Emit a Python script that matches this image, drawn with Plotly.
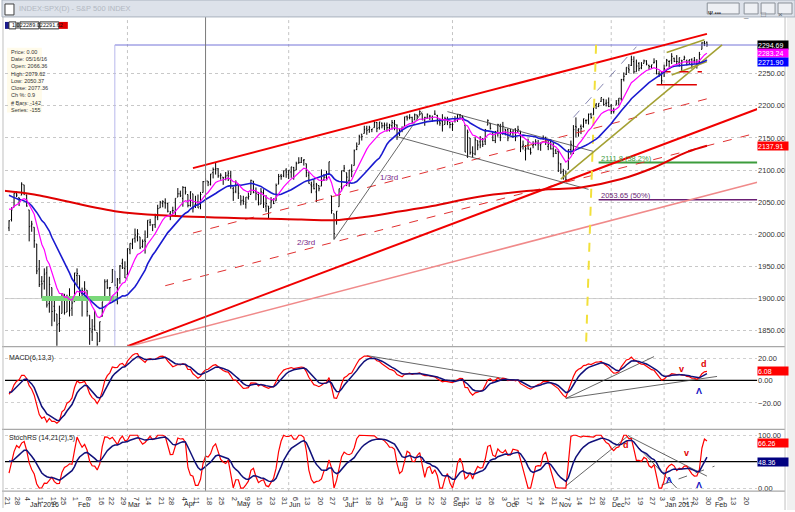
import pandas as pd
import plotly.graph_objects as go

# closes before the first visible bar (26 Oct - 18 Dec 2015), only used to warm up the indicators
warmup_close = [2071, 2066, 2090, 2089, 2079, 2104, 2109, 2102, 2100, 2099,
                2079, 2081, 2076, 2045, 2023, 2053, 2051, 2084, 2081, 2089,
                2086, 2089, 2089, 2090, 2080, 2102, 2080, 2050, 2092, 2077,
                2063, 2047, 2052, 2012, 2022, 2043, 2073, 2041, 2006]

# daily bars (open, high, low, close), one list per month
dec15 = [(2010,2022,2005,2021),(2023,2042,2020,2038),(2042,2064,2042,2064),(2064,2067,2058,2061),
         (2057,2057,2044,2056),(2061,2081,2061,2078),(2077,2077,2061,2063),(2061,2062,2043,2044)]
jan16 = [(2038,2038,1989,2012),(2013,2021,2004,2016),(2011,2011,1979,1990),(1985,1985,1938,1943),
         (1946,1960,1918,1922),(1927,1935,1901,1923),(1927,1947,1914,1938),(1940,1950,1886,1890),
         (1892,1934,1878,1922),(1917,1917,1857,1880),(1888,1901,1864,1881),(1876,1876,1812,1859),
         (1861,1889,1848,1869),(1877,1908,1877,1907),(1907,1907,1875,1878),(1879,1906,1879,1903),
         (1902,1916,1872,1882),(1885,1902,1873,1893),(1895,1940,1895,1940)]
feb16 = [(1936,1947,1921,1939),(1936,1936,1897,1903),(1908,1917,1872,1912),(1911,1927,1900,1915),
         (1913,1913,1872,1880),(1874,1874,1828,1853),(1848,1868,1834,1852),(1857,1881,1850,1851),
         (1847,1847,1810,1829),(1833,1864,1833,1864),(1872,1895,1872,1895),(1898,1930,1898,1926),
         (1927,1930,1915,1917),(1916,1918,1902,1917),(1925,1946,1925,1945),(1943,1943,1919,1921),
         (1917,1932,1891,1929),(1931,1952,1923,1951),(1955,1962,1946,1948),(1947,1958,1932,1932)]
mar16 = [(1937,1978,1937,1978),(1976,1986,1969,1986),(1985,1993,1977,1993),(1994,2009,1987,1999),
         (1996,2008,1989,2001),(1996,1996,1977,1979),(1981,1992,1979,1989),(1991,2006,1970,1989),
         (1995,2022,1995,2022),(2019,2024,2013,2019),(2015,2015,2005,2015),(2015,2032,2010,2027),
         (2027,2046,2022,2040),(2041,2052,2041,2050),(2048,2053,2042,2051),(2049,2056,2040,2049),
         (2048,2049,2034,2036),(2032,2036,2022,2035),(2037,2043,2032,2037),(2035,2056,2027,2056),
         (2058,2072,2058,2063),(2063,2068,2058,2060)]
apr16 = [(2056,2075,2043,2073),(2073,2074,2062,2066),(2062,2062,2042,2045),(2045,2067,2043,2066),
         (2063,2063,2034,2041),(2046,2060,2041,2047),(2050,2062,2041,2041),(2043,2066,2039,2062),
         (2065,2083,2065,2082),(2082,2087,2078,2083),(2083,2083,2075,2081),(2078,2094,2076,2094),
         (2096,2104,2087,2101),(2101,2111,2093,2102),(2102,2103,2088,2091),(2091,2095,2085,2092),
         (2089,2089,2077,2088),(2089,2097,2084,2091),(2092,2099,2083,2095),(2091,2099,2071,2076),
         (2071,2074,2052,2065)]
may16 = [(2067,2084,2064,2081),(2078,2078,2055,2064),(2060,2060,2045,2052),(2053,2060,2046,2051),
         (2047,2058,2040,2058),(2057,2065,2054,2059),(2062,2085,2062,2084),(2083,2083,2064,2065),
         (2067,2073,2053,2064),(2062,2066,2045,2047),(2047,2072,2047,2066),(2065,2070,2041,2047),
         (2044,2061,2035,2048),(2044,2044,2025,2040),(2041,2058,2041,2052),(2053,2056,2047,2048),
         (2052,2079,2052,2076),(2078,2094,2078,2090),(2091,2094,2085,2090),(2091,2099,2089,2099),
         (2100,2103,2088,2097)]
jun16 = [(2093,2100,2086,2100),(2097,2105,2088,2105),(2104,2105,2085,2099),(2100,2113,2100,2110),
         (2111,2120,2110,2112),(2112,2120,2111,2119),(2115,2117,2107,2116),(2110,2110,2089,2096),
         (2092,2098,2079,2079),(2077,2082,2064,2075),(2077,2085,2070,2071),(2066,2080,2050,2077),
         (2076,2076,2067,2071),(2075,2101,2075,2083),(2085,2094,2083,2089),(2089,2099,2084,2085),
         (2093,2113,2093,2113),(2060,2060,2032,2037),(2032,2032,1992,2001),(2023,2036,2015,2036),
         (2043,2071,2043,2071),(2074,2099,2067,2099)]
jul16 = [(2099,2108,2097,2103),(2096,2096,2075,2089),(2084,2100,2074,2100),(2100,2109,2089,2098),
         (2107,2132,2107,2130),(2132,2143,2131,2137),(2140,2155,2140,2152),(2156,2156,2146,2152),
         (2157,2169,2157,2163),(2165,2169,2155,2162),(2163,2169,2158,2166),(2163,2164,2159,2164),
         (2166,2176,2166,2174),(2174,2175,2159,2165),(2166,2175,2163,2175),(2173,2174,2165,2169),
         (2169,2174,2162,2170),(2170,2174,2160,2166),(2166,2172,2160,2170),(2169,2178,2163,2174)]
aug16 = [(2173,2178,2162,2171),(2170,2171,2147,2157),(2156,2164,2153,2164),(2164,2168,2159,2164),
         (2168,2183,2168,2183),(2183,2185,2177,2181),(2182,2187,2179,2182),(2182,2183,2173,2175),
         (2178,2188,2178,2186),(2186,2186,2179,2184),(2186,2193,2186,2191),(2188,2188,2178,2178),
         (2178,2183,2169,2182),(2181,2188,2180,2187),(2184,2186,2178,2184),(2182,2185,2175,2182),
         (2187,2193,2186,2187),(2185,2186,2171,2176),(2175,2179,2169,2173),(2176,2187,2160,2170),
         (2171,2183,2171,2180),(2179,2183,2170,2176),(2174,2175,2165,2171)]
sep16 = [(2171,2174,2161,2171),(2177,2184,2174,2180),(2181,2187,2175,2187),(2186,2187,2179,2186),
         (2183,2185,2177,2182),(2170,2170,2128,2128),(2121,2163,2119,2159),(2150,2150,2124,2127),
         (2128,2137,2120,2126),(2125,2151,2123,2147),(2146,2146,2131,2139),(2144,2153,2134,2139),
         (2145,2150,2136,2140),(2145,2164,2139,2163),(2170,2179,2170,2177),(2173,2173,2163,2165),
         (2158,2158,2145,2146),(2146,2161,2142,2160),(2161,2172,2152,2171),(2168,2172,2145,2151),
         (2156,2175,2156,2168)]
oct16 = [(2164,2164,2154,2161),(2163,2165,2145,2150),(2155,2164,2155,2160),(2158,2162,2150,2161),
         (2164,2165,2145,2153),(2160,2169,2160,2163),(2161,2161,2128,2136),(2137,2146,2132,2139),
         (2131,2139,2115,2133),(2139,2149,2132,2133),(2132,2135,2124,2127),(2138,2145,2134,2140),
         (2140,2148,2138,2144),(2142,2147,2131,2141),(2139,2143,2130,2141),(2149,2154,2147,2151),
         (2150,2152,2139,2144),(2137,2146,2131,2140),(2144,2148,2132,2133),(2133,2143,2120,2126),
         (2130,2133,2125,2126)]
nov16 = [(2129,2132,2097,2111),(2109,2111,2094,2097),(2098,2102,2085,2088),(2083,2099,2083,2085),
         (2101,2132,2101,2132),(2132,2146,2124,2140),(2131,2170,2125,2163),(2168,2182,2151,2167),
         (2162,2165,2152,2164),(2168,2171,2156,2165),(2168,2180,2166,2180),(2177,2179,2172,2177),
         (2178,2188,2171,2187),(2187,2189,2180,2182),(2186,2198,2186,2198),(2201,2204,2195,2203),
         (2199,2204,2198,2204),(2207,2213,2206,2213),(2210,2211,2200,2202),(2204,2210,2199,2204),
         (2205,2213,2198,2199)]
dec16 = [(2200,2203,2187,2191),(2191,2197,2188,2192),(2201,2209,2201,2204),(2208,2212,2201,2212),
         (2211,2242,2208,2241),(2241,2252,2238,2246),(2249,2260,2248,2260),(2258,2265,2251,2256),
         (2263,2278,2262,2272),(2269,2277,2250,2253),(2253,2272,2253,2262),(2266,2268,2254,2258),
         (2259,2268,2257,2263),(2266,2272,2266,2270),(2270,2271,2263,2265),(2263,2264,2256,2261),
         (2261,2264,2258,2264),(2267,2274,2266,2268),(2270,2271,2249,2250),(2250,2254,2245,2249),
         (2251,2253,2234,2239)]
jan17 = [(2252,2264,2245,2258),(2262,2273,2262,2271),(2269,2271,2260,2269),(2271,2282,2265,2277),
         (2274,2275,2268,2269),(2269,2279,2265,2269),(2268,2275,2261,2275),(2271,2271,2254,2270),
         (2272,2278,2271,2275),(2270,2272,2263,2268),(2270,2272,2264,2272),(2272,2274,2258,2264),
         (2270,2276,2266,2271),(2268,2273,2258,2265),(2267,2284,2266,2280),(2288,2299,2288,2298),
         (2298,2301,2293,2297),(2299,2300,2292,2295)]

# long red average at a few dates
ma_long_dates = ["2015-12-17", "2016-01-06", "2016-02-23", "2016-03-24", "2016-06-08", "2016-06-27",
                 "2016-07-14", "2016-08-02", "2016-08-22", "2016-09-19", "2016-10-26", "2016-11-14",
                 "2016-12-07", "2016-12-27", "2017-01-17", "2017-01-27"]
ma_long_vals = [2068, 2062, 2036, 2029, 2023, 2022, 2027, 2035, 2044, 2059, 2070, 2073, 2086, 2104, 2128, 2138]

# hand drawn lines: (date, value) end points
upper_channel = [("2016-04-07", 2103), ("2017-01-27", 2312)]
mid_channel = [("2016-04-07", 2002), ("2017-01-31", 2213)]
low_channel = [("2016-03-22", 1920), ("2017-02-24", 2158)]
main_trend = [("2016-03-01", 1826), ("2017-02-24", 2195)]
pink_trend = [("2016-03-01", 1825), ("2017-02-24", 2081)]
thin_up = [("2016-06-27", 1992), ("2016-08-16", 2191)]
wedge_low = [("2016-08-02", 2152), ("2016-11-17", 2070)]
wedge_high = [("2016-08-30", 2191), ("2016-11-21", 2129)]
rally_dash = [("2016-11-09", 2182), ("2016-12-15", 2292)]
olive_long = [("2016-11-02", 2086), ("2017-02-06", 2295)]
olive_low = [("2017-01-06", 2248), ("2017-01-27", 2269)]
olive_high = [("2017-01-04", 2283), ("2017-01-26", 2303)]
red_floor = [("2016-12-28", 2233), ("2017-01-23", 2233)]
red_floor2 = [("2016-12-30", 2253), ("2017-01-25", 2253)]
yellow_mark = [("2016-11-22", 2295), ("2016-11-16", 1826)]
green_band = [("2016-01-11", 1900), ("2016-02-24", 1900)]
last_level = [("2016-02-23", 2294.69), ("2017-03-03", 2294.69)]
last_level_drop = [("2016-02-23", 2294.69), ("2016-02-23", 1820)]
fib_382 = [("2016-11-23", 2111.8), ("2017-03-03", 2111.8)]
fib_50 = [("2016-11-23", 2053.65), ("2017-03-03", 2053.65)]
macd_lines = [[("2016-07-15", 22.2), ("2016-10-07", 0)],
              [("2016-11-04", -16), ("2016-12-27", 21.3)],
              [("2016-11-04", -16), ("2017-02-02", 3.6)]]
stoch_lines = [[("2016-11-04", 3.8), ("2016-12-12", 100)],
               [("2016-12-12", 98), ("2017-01-27", 22.6)],
               [("2016-12-15", 81), ("2017-01-10", 0)]]
stoch_dash = [("2016-12-30", 5.7), ("2017-02-01", 41.5)]

price_notes = [("1/3rd", "2016-07-28", 2089), ("2/3rd", "2016-06-10", 1988)]
macd_marks = [("v", "2017-01-12", 9.8, "#e00000"), ("d", "2017-01-26", 14.5, "#e00000"),
              ("Λ", "2017-01-24", -9.8, "#1010c0")]
stoch_marks = [("d", "2016-12-09", 81, "#e00000"), ("v", "2017-01-17", 66, "#e00000"),
               ("Λ", "2017-01-05", 15, "#1010c0"), ("Λ", "2017-01-24", 5, "#1010c0")]

# value boxes on the right scale: text, panel axis, value, colour
tags = [("2294.69", "y", 2294.69, "#000000"), ("2283.24", "y", 2281.5, "#ff00ff"),
        ("2271.90", "y", 2268.5, "#0000ff"), ("2137.91", "y", 2137.91, "#ff0000"),
        ("6.08", "y2", 8.8, "#ff0000"), ("66.26", "y3", 85, "#ff0000"), ("48.36", "y3", 50, "#000080")]

info_lines = ["Price: 0.00", "Date: 05/16/16", "Open: 2066.36", "High: 2079.62", "Low: 2050.37",
              "Close: 2077.36", "Ch %: 0.9", "# Bars: -142", "Series: -155"]

holidays = ["2015-12-25", "2016-01-01", "2016-01-18", "2016-02-15", "2016-03-25", "2016-05-30",
            "2016-07-04", "2016-09-05", "2016-11-24", "2016-12-26", "2017-01-02", "2017-01-16"]

# ---------------------------------------------------------------
bars = dec15 + jan16 + feb16 + mar16 + apr16 + may16 + jun16 + jul16 + aug16 + sep16 + oct16 + nov16 + dec16 + jan17
cal = pd.bdate_range("2015-12-16", "2017-03-03", freq="C", holidays=holidays)
base = cal.get_loc(pd.Timestamp("2015-12-21"))
pos = {d: i - base for i, d in enumerate(cal)}
assert cal[base + len(bars) - 1] == pd.Timestamp("2017-01-27")


def X(d):
    return pos[pd.Timestamp(d)]


xs = list(range(len(bars)))
o = [b[0] for b in bars]
h = [b[1] for b in bars]
l = [b[2] for b in bars]
c = [b[3] for b in bars]

full = pd.Series(warmup_close + c, dtype=float)
n0 = len(warmup_close)
ema10 = full.ewm(span=10, adjust=False).mean()[n0:]
sma20 = full.rolling(20).mean()[n0:]

macd = full.ewm(span=6, adjust=False).mean() - full.ewm(span=13, adjust=False).mean()
signal = macd.ewm(span=5, adjust=False).mean()

delta = full.diff()
up = delta.clip(lower=0).ewm(alpha=1 / 14, adjust=False).mean()
dn = (-delta.clip(upper=0)).ewm(alpha=1 / 14, adjust=False).mean()
rsi = 100 - 100 / (1 + up / dn)
lo21 = rsi.rolling(21, min_periods=5).min()
hi21 = rsi.rolling(21, min_periods=5).max()
stoch_k = ((rsi - lo21) / (hi21 - lo21) * 100).rolling(2).mean()
stoch_d = stoch_k.ewm(span=9, adjust=False).mean()

FONT = "Liberation Sans"
fig = go.Figure()


def seg(pts, color, width=1.0, dash="solid", axis="y", shape="linear"):
    fig.add_trace(go.Scatter(x=[X(d) for d, _ in pts], y=[v for _, v in pts], mode="lines",
                             line=dict(color=color, width=width, dash=dash, shape=shape),
                             yaxis=axis, hoverinfo="skip", showlegend=False))


# price panel drawings
seg(green_band, "#7ad87a", 5)
seg(last_level, "#7474d8", 1)
seg(last_level_drop, "#b8b8ec", 1)
seg(fib_382, "#3c9c3c", 2)
seg(fib_50, "#6a1f74", 1.5)
seg(pink_trend, "#f08a8a", 1.5)
seg(low_channel, "#e03030", 1, "dash")
seg(mid_channel, "#e03030", 1, "dash")
seg(main_trend, "#f00000", 2)
seg(upper_channel, "#f00000", 2)
seg(thin_up, "#404040", 0.8)
seg(wedge_low, "#404040", 0.8)
seg(wedge_high, "#404040", 0.8)
seg(rally_dash, "#6a6aa0", 0.8, "dash")
seg(yellow_mark, "#f2e03a", 2, "dash")
seg(olive_long, "#a3a032", 1.5)
seg(olive_low, "#a3a032", 1.5)
seg(olive_high, "#a3a032", 1.5)
seg(red_floor, "#e00000", 1.5)
seg(red_floor2, "#e00000", 1.5, "dash")
seg(list(zip(ma_long_dates, ma_long_vals)), "#e00000", 2, shape="spline")

fig.add_trace(go.Ohlc(x=xs, open=o, high=h, low=l, close=c,
                      increasing_line_color="black", decreasing_line_color="black",
                      line_width=1, tickwidth=0.35, hoverinfo="skip", showlegend=False))
fig.add_trace(go.Scatter(x=xs, y=sma20, mode="lines", line=dict(color="#1a1ad0", width=1.6),
                         hoverinfo="skip", showlegend=False))
fig.add_trace(go.Scatter(x=xs, y=ema10, mode="lines", line=dict(color="#ff00ff", width=1.2),
                         hoverinfo="skip", showlegend=False))

# MACD panel
seg([("2015-12-16", 0), ("2017-03-03", 0)], "black", 1.2, axis="y2")
for ln in macd_lines:
    seg(ln, "#404040", 0.8, axis="y2")
fig.add_trace(go.Scatter(x=xs, y=macd[n0:], yaxis="y2", mode="lines", line=dict(color="#ff0000", width=1.2),
                         hoverinfo="skip", showlegend=False))
fig.add_trace(go.Scatter(x=xs, y=signal[n0:], yaxis="y2", mode="lines", line=dict(color="#10107a", width=1.5),
                         hoverinfo="skip", showlegend=False))

# stochastic panel
seg([("2015-12-16", 50), ("2017-03-03", 50)], "black", 1.2, axis="y3")
for ln in stoch_lines:
    seg(ln, "#404040", 0.8, axis="y3")
seg(stoch_dash, "#404040", 0.8, "dash", axis="y3")
fig.add_trace(go.Scatter(x=xs, y=stoch_k[n0:], yaxis="y3", mode="lines", line=dict(color="#ff0000", width=1.2),
                         hoverinfo="skip", showlegend=False))
fig.add_trace(go.Scatter(x=xs, y=stoch_d[n0:], yaxis="y3", mode="lines", line=dict(color="#10107a", width=1.5),
                         hoverinfo="skip", showlegend=False))

# date ticks: first session of every week, month names underneath
tickvals, ticktext, months = [], [], []
for i, d in enumerate(cal):
    k = i - base
    if k < 0 or k > 295:
        continue
    prev = cal[i - 1]
    if d.isocalendar()[1] != prev.isocalendar()[1]:
        tickvals.append(k)
        ticktext.append(str(d.day))
    if d.month != prev.month:
        months.append((k, d.strftime("%b %Y") if d.month == 1 else d.strftime("%b")))

W, H = 795, 512


def px(x):
    return x / W


def py(y):
    return 1 - y / H


shapes = []
for d in ["2016-03-01", "2016-06-01", "2016-09-01", "2016-12-01", "2017-01-03"]:
    shapes.append(dict(type="line", xref="x", yref="paper", x0=X(d), x1=X(d), y0=py(493), y1=py(17),
                       line=dict(color="#c4c4c4", width=1, dash="dot"), layer="below"))
shapes.append(dict(type="line", xref="x", yref="paper", x0=X("2016-04-14"), x1=X("2016-04-14"),
                   y0=py(493), y1=py(17), line=dict(color="#7a7a7a", width=1)))
shapes.append(dict(type="line", xref="paper", yref="y", x0=px(3), x1=px(757), y0=1900, y1=1900,
                   line=dict(color="#d0d0d0", width=1), layer="below"))
for yy in [348, 431, 493]:
    shapes.append(dict(type="line", xref="paper", yref="paper", x0=0, x1=px(785), y0=py(yy), y1=py(yy),
                       line=dict(color="#a8a8a8", width=1.2)))
shapes.append(dict(type="line", xref="paper", yref="paper", x0=px(785), x1=px(785), y0=0, y1=py(17),
                   line=dict(color="#c0c0c0", width=1)))
shapes.append(dict(type="line", xref="paper", yref="paper", x0=px(1), x1=px(1), y0=py(510), y1=py(17),
                   line=dict(color="#c0c0c0", width=1)))
shapes.append(dict(type="rect", xref="paper", yref="paper", x0=px(787), x1=1, y0=0, y1=py(17),
                   fillcolor="#f0f0f0", line=dict(width=0)))
# window title bar and buttons
shapes.append(dict(type="rect", xref="paper", yref="paper", x0=0, x1=1, y0=py(17), y1=1,
                   fillcolor="#dde2ea", line=dict(color="#a9b1bd", width=1)))
shapes.append(dict(type="rect", xref="paper", yref="paper", x0=px(3), x1=px(12), y0=py(15), y1=py(4),
                   fillcolor="white", line=dict(color="#404040", width=1)))
for x0, x1 in [(707, 739), (744, 758), (761, 775), (778, 792)]:
    shapes.append(dict(type="rect", xref="paper", yref="paper", x0=px(x0), x1=px(x1), y0=py(14), y1=py(3),
                       fillcolor="#eef0f4", line=dict(color="#8a9098", width=1)))
# toolbar boxes
shapes.append(dict(type="rect", xref="paper", yref="paper", x0=px(3), x1=px(7), y0=py(29), y1=py(22),
                   fillcolor="#1a1a8c", line=dict(width=0)))
for x0, x1 in [(7, 14), (18, 37), (38, 57)]:
    shapes.append(dict(type="rect", xref="paper", yref="paper", x0=px(x0), x1=px(x1), y0=py(29), y1=py(22),
                       fillcolor="white", line=dict(color="#303030", width=1)))
shapes.append(dict(type="rect", xref="paper", yref="paper", x0=px(14), x1=px(17), y0=py(29), y1=py(22),
                   fillcolor="#909090", line=dict(width=0)))
shapes.append(dict(type="rect", xref="paper", yref="paper", x0=px(57), x1=px(66), y0=py(29), y1=py(22),
                   fillcolor="#e00000", line=dict(width=0)))
shapes.append(dict(type="rect", xref="paper", yref="paper", x0=px(5), x1=px(40), y0=py(113), y1=py(48),
                   fillcolor="#fffbea", line=dict(width=0), layer="below"))

ann = []
small = dict(family=FONT, size=7, color="#222222")
for k, txt in months:
    ann.append(dict(x=k - 0.5, y=py(506), xref="x", yref="paper", text=txt, showarrow=False,
                    xanchor="left", yanchor="middle", font=small))
for txt, d, v in price_notes:
    ann.append(dict(x=X(d), y=v, xref="x", yref="y", text=txt, showarrow=False,
                    font=dict(family=FONT, size=8, color="#7a2a8a")))
ann.append(dict(x=X("2016-11-23"), y=2118, xref="x", yref="y", text="2111.8 (38.2%)", showarrow=False,
                xanchor="left", font=dict(family=FONT, size=7.5, color="#3c9c3c")))
ann.append(dict(x=X("2016-11-23"), y=2060, xref="x", yref="y", text="2053.65 (50%)", showarrow=False,
                xanchor="left", font=dict(family=FONT, size=7.5, color="#6a1f74")))
for txt, d, v, col in macd_marks:
    ann.append(dict(x=X(d), y=v, xref="x", yref="y2", text="<b>%s</b>" % txt, showarrow=False,
                    font=dict(family=FONT, size=9, color=col)))
for txt, d, v, col in stoch_marks:
    ann.append(dict(x=X(d), y=v, xref="x", yref="y3", text="<b>%s</b>" % txt, showarrow=False,
                    font=dict(family=FONT, size=9, color=col)))
for txt, ax, v, col in tags:
    ann.append(dict(x=px(757), y=v, xref="paper", yref=ax, text=txt, showarrow=False, xanchor="left",
                    yanchor="middle", width=30, height=8, align="left", bgcolor=col, borderpad=0,
                    font=dict(family=FONT, size=7, color="white")))
ann.append(dict(x=px(5), y=py(353), xref="paper", yref="paper", text="MACD(6,13,3)", showarrow=False,
                xanchor="left", yanchor="top", font=small))
ann.append(dict(x=px(5), y=py(434), xref="paper", yref="paper", text="StochRS (14,21(2),5)", showarrow=False,
                xanchor="left", yanchor="top", font=small))
for j, txt in enumerate(info_lines):
    ann.append(dict(x=px(7), y=py(52 + j * 7.3), xref="paper", yref="paper", text=txt, showarrow=False,
                    xanchor="left", yanchor="middle", font=dict(family=FONT, size=5.5, color="#333333")))
for x0, txt in [(8, "1.02"), (19, "2289.02"), (39, "2291.62")]:
    ann.append(dict(x=px(x0), y=py(25.5), xref="paper", yref="paper", text=txt, showarrow=False,
                    xanchor="left", yanchor="middle", font=dict(family=FONT, size=5.5, color="#111111")))
ann.append(dict(x=px(15), y=py(9), xref="paper", yref="paper", text="INDEX:SPX(D) - S&P 500 INDEX",
                showarrow=False, xanchor="left", yanchor="middle", font=dict(family=FONT, size=7.5, color="#b2b8c2")))
for xc, txt in [(751, "_"), (768, "□"), (785, "×")]:
    ann.append(dict(x=px(xc), y=py(8.5), xref="paper", yref="paper", text=txt, showarrow=False,
                    font=dict(family=FONT, size=8, color="#606870")))
ann.append(dict(x=px(723), y=py(8.5), xref="paper", yref="paper", text="<b>Ψ ▪▪▪</b>", showarrow=False,
                font=dict(family=FONT, size=6, color="#404040")))

axis_font = dict(family=FONT, size=7.5, color="#333333")
fig.update_layout(
    width=W, height=H, margin=dict(l=0, r=0, t=0, b=0),
    paper_bgcolor="white", plot_bgcolor="white", showlegend=False,
    xaxis=dict(domain=[px(3), px(757)], range=[-1.6, 296.9], anchor="y3", tickvals=tickvals,
               ticktext=ticktext, tickfont=axis_font, ticks="", showgrid=False, zeroline=False,
               showline=False, rangeslider=dict(visible=False), ticklabelstandoff=1),
    yaxis=dict(domain=[py(347), py(17)], range=[1826.7, 2338.4], anchor="x", side="right",
               tickvals=[1850, 1900, 1950, 2000, 2050, 2100, 2150, 2200, 2250], tickformat=".2f",
               tickfont=axis_font, ticks="", showgrid=True, gridcolor="#c8c8c8", griddash="dot",
               zeroline=False, showline=False),
    yaxis2=dict(domain=[py(430), py(350)], range=[-42.7, 28.4], anchor="x", side="right",
                tickvals=[-20, 0, 20], tickformat=".2f", tickfont=axis_font, ticks="", showgrid=True,
                gridcolor="#d0d0d0", griddash="dot", zeroline=False, showline=False),
    yaxis3=dict(domain=[py(493), py(432)], range=[-5.7, 109.4], anchor="x", side="right",
                tickvals=[0, 100], tickformat=".2f", tickfont=axis_font, ticks="", showgrid=True,
                gridcolor="#d0d0d0", griddash="dot", zeroline=False, showline=False),
    shapes=shapes, annotations=ann,
)

# the page body has a default 8px margin; drop it so the figure sits at the window corner
fig.write_html("out.html", config={"displayModeBar": False},
               post_script="document.body.style.margin='0';document.body.style.overflow='hidden';")
